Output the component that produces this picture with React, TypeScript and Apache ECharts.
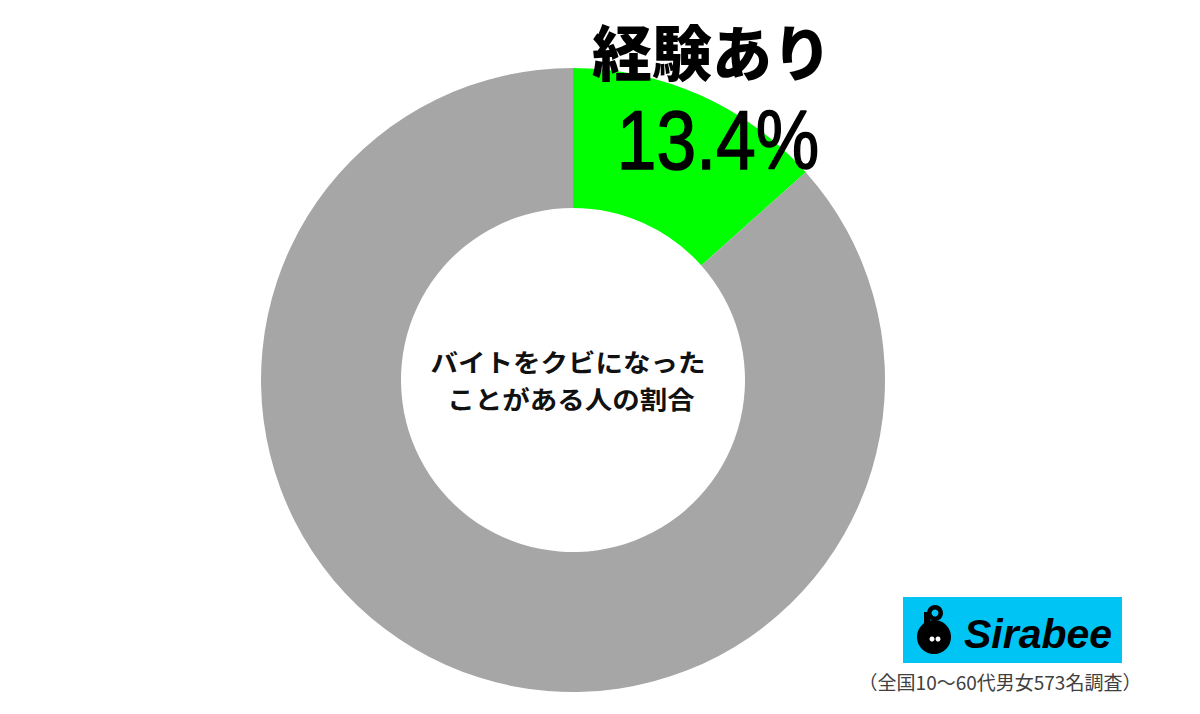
import React, { useEffect, useRef } from "react";
import * as echarts from "echarts";

const categories = ["経験あり", "経験なし"];
const values = [13.4, 86.6];
const colors = ["#00ff00", "#a6a6a6"];
const titleText = "経験あり";
const valueText = "13.4%";
const centerLines = ["バイトをクビになった", "ことがある人の割合"];
const noteText = "（全国10～60代男女573名調査）";
const brandText = "Sirabee";

export default function App() {
  const ref = useRef<HTMLDivElement>(null);
  useEffect(() => {
    if (!ref.current) return;
    const chart = echarts.init(ref.current, undefined, { renderer: "svg" });
    const jp = "'Noto Sans CJK JP', 'Noto Sans', sans-serif";
    chart.setOption({
      animation: false,
      backgroundColor: "#ffffff",
      series: [
        {
          type: "pie",
          center: [573, 380],
          radius: [172, 312],
          startAngle: 90,
          clockwise: true,
          label: { show: false },
          labelLine: { show: false },
          emphasis: { disabled: true },
          itemStyle: { borderWidth: 0 },
          data: categories.map((c, i) => ({
            name: c,
            value: values[i],
            itemStyle: { color: colors[i] },
          })),
        },
      ],
      graphic: [
        {
          type: "text",
          x: 712,
          y: 49,
          z: 10,
          style: {
            text: titleText,
            x: 0,
            y: 0,
            align: "center",
            verticalAlign: "middle",
            font: `900 60px ${jp}`,
            fill: "#000000",
          },
        },
        {
          type: "text",
          x: 718,
          y: 140,
          scaleX: 0.86,
          z: 10,
          style: {
            text: valueText,
            x: 0,
            y: 0,
            align: "center",
            verticalAlign: "middle",
            font: `400 83px 'Liberation Sans', Arial, sans-serif`,
            fill: "#000000",
            stroke: "#000000",
            lineWidth: 1.5,
          },
        },
        {
          type: "text",
          x: 568,
          y: 362,
          scaleX: 1.1,
          z: 10,
          style: {
            text: centerLines[0],
            x: 0,
            y: 0,
            align: "center",
            verticalAlign: "middle",
            font: `700 25px ${jp}`,
            fill: "#111111",
          },
        },
        {
          type: "text",
          x: 571,
          y: 399,
          scaleX: 1.1,
          z: 10,
          style: {
            text: centerLines[1],
            x: 0,
            y: 0,
            align: "center",
            verticalAlign: "middle",
            font: `700 25px ${jp}`,
            fill: "#111111",
          },
        },
        {
          type: "rect",
          shape: { x: 903, y: 597, width: 219, height: 66 },
          style: { fill: "#00c4f4" },
        },
        {
          type: "circle",
          shape: { cx: 934, cy: 637, r: 17 },
          style: { fill: "#000000" },
        },
        {
          type: "rect",
          shape: { x: 924, y: 612, width: 6, height: 18 },
          style: { fill: "#000000" },
        },
        {
          type: "ring",
          shape: { cx: 935, cy: 613, r: 8, r0: 3.5 },
          style: { fill: "#000000" },
        },
        {
          type: "circle",
          shape: { cx: 932, cy: 639, r: 2.5 },
          style: { fill: "#ffffff" },
        },
        {
          type: "circle",
          shape: { cx: 938, cy: 639, r: 2.5 },
          style: { fill: "#ffffff" },
        },
        {
          type: "text",
          x: 964,
          y: 634,
          z: 10,
          style: {
            text: brandText,
            x: 0,
            y: 0,
            align: "left",
            verticalAlign: "middle",
            font: `italic 700 41px 'Liberation Sans', Arial, sans-serif`,
            fill: "#000000",
          },
        },
        {
          type: "text",
          x: 1000,
          y: 681,
          z: 10,
          style: {
            text: noteText,
            x: 0,
            y: 0,
            align: "center",
            verticalAlign: "middle",
            font: `400 19px ${jp}`,
            fill: "#404040",
          },
        },
      ],
    });
    return () => chart.dispose();
  }, []);
  return (
    <div
      ref={ref}
      style={{ position: "fixed", left: 0, top: 0, width: 1200, height: 714, background: "#fff" }}
    />
  );
}
